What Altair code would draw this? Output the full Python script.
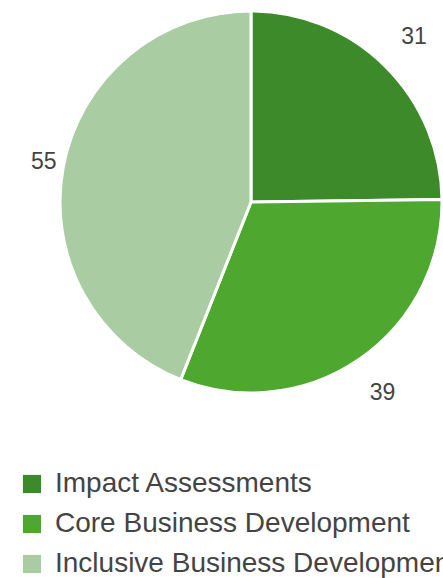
import altair as alt
import pandas as pd

categories = ["Impact Assessments", "Core Business Development", "Inclusive Business Development"]
values = [31, 39, 55]
colors = ["#3d8a2a", "#4ea830", "#a9cca3"]

df = pd.DataFrame({"cat": categories, "val": values, "idx": list(range(len(values)))})

base = alt.Chart(df).encode(
    theta=alt.Theta("val:Q", stack=True),
    order=alt.Order("idx:Q"),
    x=alt.value(251),
    y=alt.value(202),
)

pie = base.mark_arc(outerRadius=191, stroke="white", strokeWidth=3).encode(
    color=alt.Color(
        "cat:N",
        scale=alt.Scale(domain=categories, range=colors),
        sort=categories,
        legend=alt.Legend(
            title=None,
            orient="none",
            legendX=18,
            legendY=470,
            symbolType="square",
            symbolSize=330,
            symbolStrokeWidth=0,
            labelFontSize=28,
            labelFont="Liberation Sans",
            labelColor="#444444",
            labelLimit=1000,
            labelOffset=9,
            rowPadding=12,
        ),
    )
)

labels_right = base.mark_text(
    radius=232, fontSize=23, font="Liberation Sans", color="#444444"
).encode(
    text=alt.Text("val:Q"),
    opacity=alt.condition("datum.idx < 2", alt.value(1), alt.value(0)),
)

labels_left = base.mark_text(
    radius=211, fontSize=23, font="Liberation Sans", color="#444444"
).encode(
    text=alt.Text("val:Q"),
    opacity=alt.condition("datum.idx >= 2", alt.value(1), alt.value(0)),
)

chart = (pie + labels_right + labels_left).properties(
    width=443, height=578, autosize=alt.AutoSizeParams(type="none"), padding=0
).configure_view(stroke=None)

chart.save("out.html", embed_options={"renderer": "svg", "actions": False})
